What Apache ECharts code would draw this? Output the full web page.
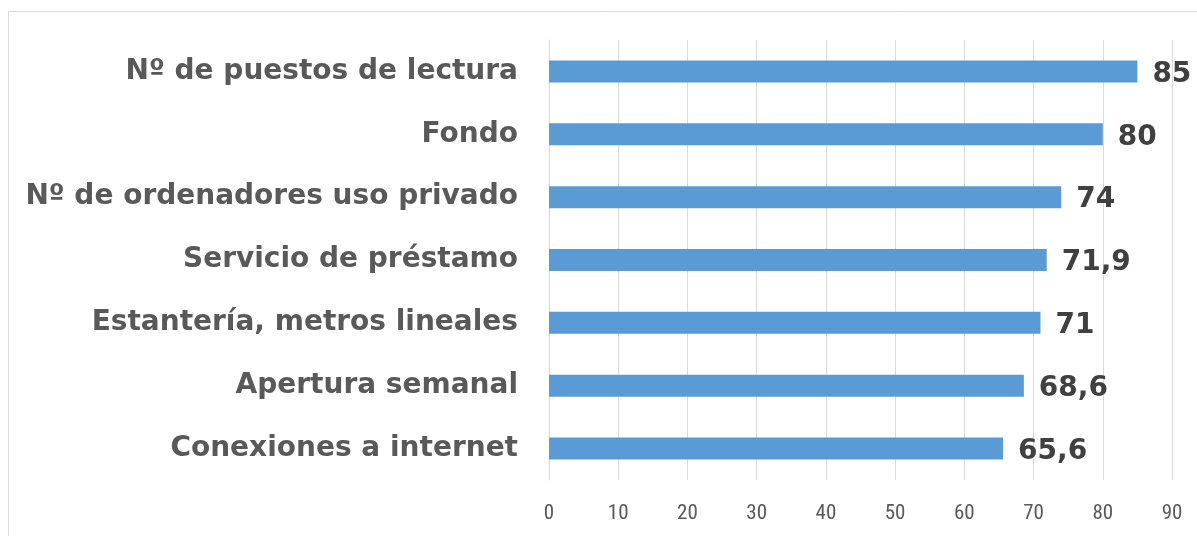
<!DOCTYPE html>
<html><head><meta charset="utf-8">
<script src="https://cdn.jsdelivr.net/npm/echarts@6/dist/echarts.min.js"></script>
<style>html,body{margin:0;padding:0;background:#fff}#c{width:1197px;height:536px}</style>
</head><body><div id="c"></div>
<script>
const categories = ["Nº de puestos de lectura","Fondo","Nº de ordenadores uso privado","Servicio de préstamo","Estantería, metros lineales","Apertura semanal","Conexiones a internet"];
const values = [85, 80, 74, 71.9, 71, 68.6, 65.6];
const valueLabels = ["85","80","74","71,9","71","68,6","65,6"];
const xTicks = [0,10,20,30,40,50,60,70,80,90];

const chart = echarts.init(document.getElementById('c'), null, {renderer:'canvas'});
chart.setOption({
  animation:false,
  backgroundColor:'#fff',
  graphic:[{type:'rect',shape:{x:8.5,y:11.5,width:1300,height:700},style:{fill:'none',stroke:'#d9d9d9',lineWidth:1},z:-1}],
  grid:{left:549,right:25,top:40,bottom:56,containLabel:false},
  xAxis:{type:'value',min:0,max:90,interval:10,
    axisLine:{show:false},axisTick:{show:false},
    splitLine:{lineStyle:{color:'#d9d9d9',width:1}},
    axisLabel:{color:'#595959',fontSize:21,fontFamily:'"Liberation Sans Narrow","Roboto Condensed","Liberation Sans",sans-serif',margin:23,
      formatter:v=>xTicks.includes(v)?String(v):''}},
  yAxis:{type:'category',data:categories.slice().reverse(),
    axisLine:{show:true,lineStyle:{color:'#d9d9d9'}},axisTick:{show:false},
    axisLabel:{color:'#595959',fontSize:28,fontWeight:'bold',fontFamily:'"DejaVu Sans",sans-serif',margin:31}},
  series:[{type:'bar',data:values.slice().reverse(),barWidth:'35%',
    itemStyle:{color:'#5b9bd5'},
    label:{show:true,position:'right',distance:15,offset:[0,3],color:'#404040',fontSize:28,fontWeight:'bold',
      fontFamily:'"DejaVu Sans",sans-serif',
      formatter:p=>valueLabels[categories.length-1-p.dataIndex]}}]
});
</script></body></html>
